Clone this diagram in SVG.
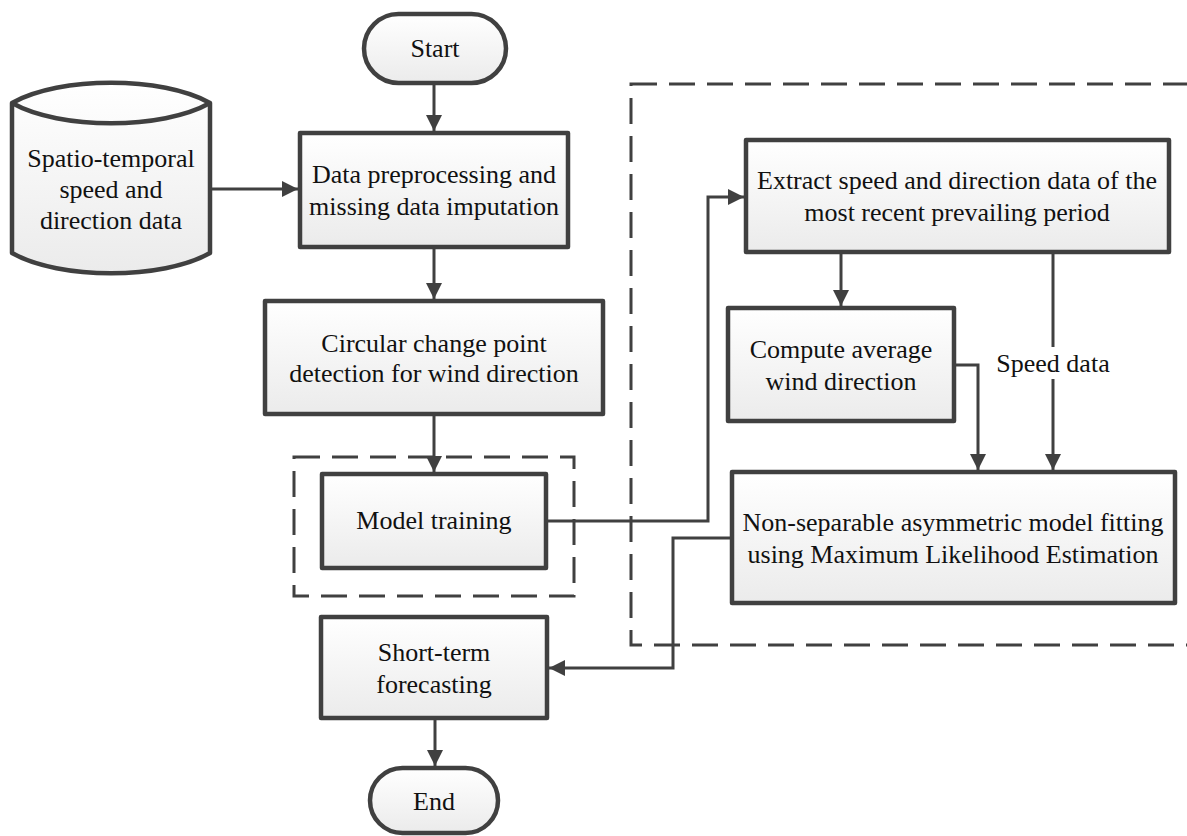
<svg xmlns="http://www.w3.org/2000/svg" width="1187" height="836" viewBox="0 0 1187 836">
<style>
.box{fill:url(#g);stroke:#404040;stroke-width:4.5;stroke-linejoin:round}
.t{font-family:"Liberation Serif","Times New Roman",serif;font-size:26px;fill:#111;text-anchor:middle;dominant-baseline:central}
.c{fill:none;stroke:#404040;stroke-width:3}
.d{fill:none;stroke:#404040;stroke-width:3;stroke-dasharray:26 12}
</style>
<defs>
<linearGradient id="g" x1="0" y1="0" x2="0" y2="1">
<stop offset="0" stop-color="#ffffff"/>
<stop offset="1" stop-color="#ebebeb"/>
</linearGradient>
<marker id="a" markerUnits="userSpaceOnUse" markerWidth="16" markerHeight="16" viewBox="0 0 16 16" refX="16" refY="8" orient="auto">
<path d="M0,0 L16,8 L0,16 Z" fill="#404040"/>
</marker>
</defs>
<g id="groups">
<rect class="d" x="631" y="84" width="580" height="561"/>
<rect class="d" x="294" y="457" width="280" height="139"/>
</g>
<g id="connectors">
<line class="c" x1="434" y1="83" x2="434" y2="131" marker-end="url(#a)"/>
<line class="c" x1="210" y1="189" x2="298" y2="189" marker-end="url(#a)"/>
<line class="c" x1="434" y1="247" x2="434" y2="299" marker-end="url(#a)"/>
<line class="c" x1="434" y1="414" x2="434" y2="472" marker-end="url(#a)"/>
<polyline class="c" points="546,521 708,521 708,197 744,197" marker-end="url(#a)"/>
<line class="c" x1="841" y1="252" x2="841" y2="306" marker-end="url(#a)"/>
<polyline class="c" points="954,365 978,365 978,470" marker-end="url(#a)"/>
<line class="c" x1="1053" y1="252" x2="1053" y2="347"/>
<line class="c" x1="1053" y1="379" x2="1053" y2="470" marker-end="url(#a)"/>
<polyline class="c" points="732,538 673,538 673,668 549,668" marker-end="url(#a)"/>
<line class="c" x1="435" y1="718" x2="435" y2="766" marker-end="url(#a)"/>
</g>
<g id="start">
<rect class="box" x="364" y="14" width="142" height="69" rx="34.5"/>
<text class="t" x="435" y="48">Start</text>
</g>
<g id="data">
<path class="box" d="M12,103 C60,76 162,76 210,103 L210,253 C162,280 60,280 12,253 Z"/>
<path class="box" fill="none" style="fill:none" d="M12,103 C60,130 162,130 210,103"/>
<text class="t" x="111" y="158">Spatio-temporal</text>
<text class="t" x="111" y="189">speed and</text>
<text class="t" x="111" y="220">direction data</text>
</g>
<g id="preprocess">
<rect class="box" x="300" y="133" width="268" height="114"/>
<text class="t" x="434" y="174">Data preprocessing and</text>
<text class="t" x="434" y="206">missing data imputation</text>
</g>
<g id="changepoint">
<rect class="box" x="265" y="301" width="338" height="113"/>
<text class="t" x="434" y="343">Circular change point</text>
<text class="t" x="434" y="373">detection for wind direction</text>
</g>
<g id="training">
<rect class="box" x="322" y="474" width="224" height="94"/>
<text class="t" x="434" y="520">Model training</text>
</g>
<g id="extract">
<rect class="box" x="746" y="140" width="423" height="112"/>
<text class="t" x="957" y="180">Extract speed and direction data of the</text>
<text class="t" x="957" y="212">most recent prevailing period</text>
</g>
<g id="average">
<rect class="box" x="728" y="308" width="226" height="113"/>
<text class="t" x="841" y="349">Compute average</text>
<text class="t" x="841" y="381">wind direction</text>
</g>
<g id="speedlabel">
<text class="t" x="1053" y="363">Speed data</text>
</g>
<g id="fitting">
<rect class="box" x="732" y="472" width="443" height="131"/>
<text class="t" x="953" y="522">Non-separable asymmetric model fitting</text>
<text class="t" x="953" y="554">using Maximum Likelihood Estimation</text>
</g>
<g id="forecast">
<rect class="box" x="321" y="617" width="226" height="101"/>
<text class="t" x="434" y="652">Short-term</text>
<text class="t" x="434" y="684">forecasting</text>
</g>
<g id="end">
<rect class="box" x="370" y="768" width="128" height="65" rx="32.5"/>
<text class="t" x="434" y="801">End</text>
</g>
</svg>
